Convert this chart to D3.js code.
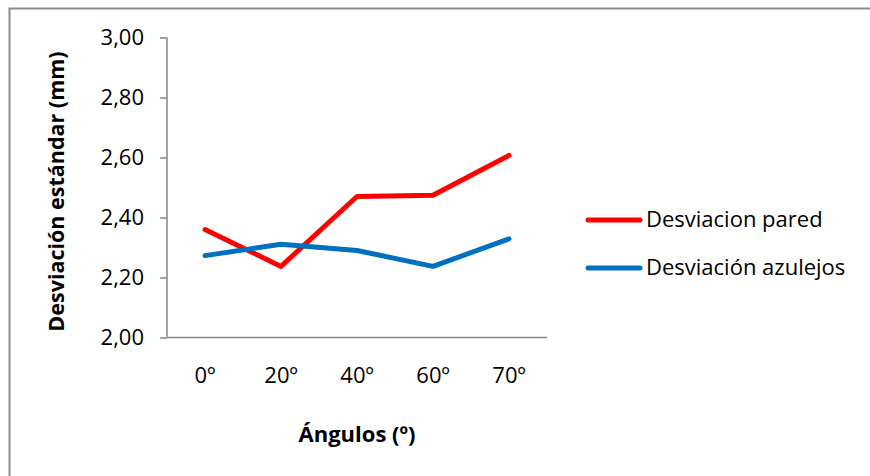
<!DOCTYPE html>
<html>
<head>
<meta charset="utf-8">
<script src="https://cdn.jsdelivr.net/npm/d3@7"></script>
<style>
  body { margin: 0; background: #fff; }
  svg text { font-family: "Open Sans", sans-serif; fill: #000; }
</style>
</head>
<body>
<svg id="chart" width="870" height="476"></svg>
<script>
// Categories and series
const angles = ["0º", "20º", "40º", "60º", "70º"];
const pared = [2.36, 2.237, 2.47, 2.474, 2.607];
const azulejos = [2.273, 2.311, 2.29, 2.237, 2.329];
const seriesNames = ["Desviacion pared", "Desviación azulejos"];
const seriesColors = ["#ff0000", "#0070c0"];
const yTicks = [2.0, 2.2, 2.4, 2.6, 2.8, 3.0];

const svg = d3.select("#chart");

// chart frame
svg.append("rect")
  .attr("x", 9.5).attr("y", 8.5)
  .attr("width", 880).attr("height", 480)
  .attr("fill", "none").attr("stroke", "#8c8c8c").attr("stroke-width", 2);

const plot = { left: 167, right: 547, top: 37.5, bottom: 337.5 };

const x = d3.scaleBand().domain(angles).range([plot.left, plot.right]);
const y = d3.scaleLinear().domain([2.0, 3.0]).range([plot.bottom, plot.top]);

const fmt = v => d3.format(".2f")(v).replace(".", ",");

// y axis
const yAxis = svg.append("g")
  .attr("transform", `translate(${plot.left},0)`)
  .call(d3.axisLeft(y).tickValues(yTicks).tickFormat(fmt).tickSize(7).tickPadding(16));
yAxis.select(".domain").attr("stroke", "#868686").attr("stroke-width", 1.5)
  .attr("d", `M0,${plot.top}V${plot.bottom}`);
yAxis.selectAll(".tick line").attr("stroke", "#868686").attr("stroke-width", 1.5);
yAxis.selectAll(".tick text").style("font-size", "22px").attr("dy", "0.34em");

// x axis
const xAxis = svg.append("g")
  .attr("transform", `translate(0,${plot.bottom})`)
  .call(d3.axisBottom(x).tickSize(0).tickPadding(30));
xAxis.select(".domain").attr("stroke", "#868686").attr("stroke-width", 1.5)
  .attr("d", `M${plot.left},0H${plot.right}`);
xAxis.selectAll(".tick text").style("font-size", "22px");

// axis titles
svg.append("text")
  .attr("transform", `translate(64,${(plot.top + plot.bottom) / 2 + 4}) rotate(-90)`)
  .attr("text-anchor", "middle").style("font-size", "21.5px").style("font-weight", "bold")
  .text("Desviación estándar (mm)");

svg.append("text")
  .attr("x", 357).attr("y", 442)
  .attr("text-anchor", "middle").style("font-size", "22px").style("font-weight", "bold")
  .text("Ángulos (º)");

// lines
const line = d3.line()
  .x((d, i) => x(angles[i]) + x.bandwidth() / 2)
  .y(d => y(d));

[pared, azulejos].forEach((vals, i) => {
  svg.append("path")
    .datum(vals)
    .attr("d", line)
    .attr("fill", "none")
    .attr("stroke", seriesColors[i])
    .attr("stroke-width", 5)
    .attr("stroke-linecap", "round")
    .attr("stroke-linejoin", "round");
});

// legend
const legend = svg.append("g");
seriesNames.forEach((name, i) => {
  const ly = 220 + i * 48;
  legend.append("line")
    .attr("x1", 588).attr("x2", 640).attr("y1", ly).attr("y2", ly)
    .attr("stroke", seriesColors[i]).attr("stroke-width", 5).attr("stroke-linecap", "round");
  legend.append("text")
    .attr("x", 646).attr("y", ly + 7)
    .style("font-size", "22px")
    .text(name);
});
</script>
</body>
</html>
